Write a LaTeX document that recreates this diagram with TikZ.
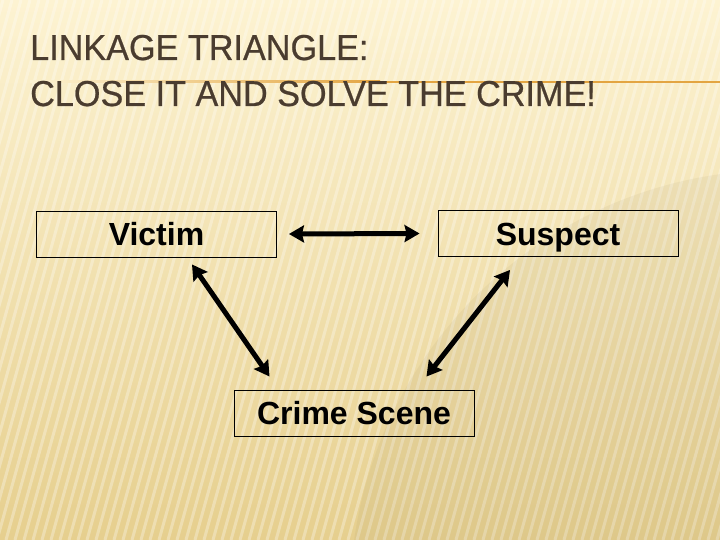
\documentclass[tikz,border=0pt]{standalone}
\usepackage{fontspec}
\setmainfont{Liberation Sans}
\newfontfamily\ttlfont[FakeStretch=0.95,FakeBold=0.6]{Liberation Sans}
\usetikzlibrary{arrows.meta}
\definecolor{titlebrown}{HTML}{4A3C2F}
\definecolor{creamtop}{HTML}{FDF3D2}
\definecolor{creambot}{HTML}{E6CF8E}
\definecolor{rulorange}{HTML}{E3A542}

\begin{document}
\begin{tikzpicture}[x=1pt,y=-1pt,
 box/.style={draw=black,line width=0.9pt,minimum width=240pt,minimum height=46pt,inner sep=0pt,text height=23pt,text depth=0pt,font=\fontsize{32}{40}\selectfont\bfseries},
 link/.style={line width=5pt,{Stealth[length=15pt,width=17pt,inset=2pt]}-{Stealth[length=15pt,width=17pt,inset=2pt]}},
 ttl/.style={anchor=base west,inner sep=0pt,text=titlebrown,font=\ttlfont\fontsize{36}{40}\selectfont}]

% background
\shade[top color=creamtop,bottom color=creambot] (0,0) rectangle (720,540);
\useasboundingbox (0,0) rectangle (720,540);
\begin{scope}
\clip (0,0) rectangle (720,540);
\foreach \i in {-300,-291,...,720}
  \draw[white,opacity=0.3,line width=3pt] (\i,540) -- (\i+150,0);
\fill[black!40!creambot,opacity=0.08] (780,600) circle (430);
\end{scope}

% title
\shade[left color=creamtop,right color=rulorange] (30,81) rectangle (380,83);
\fill[rulorange] (380,81) rectangle (720,83);
\node[ttl] (ttl1) at (30,60) {LINKAGE TRIANGLE:};
\node[ttl] (ttl2) at (30,106) {CLOSE IT AND SOLVE THE CRIME!};

% triangle
\node[box] (victim) at (156.5,234) {Victim};
\node[box] (suspect) at (558,233.5) {Suspect};
\node[box] (scene) at (354,413) {Crime Scene};

\draw[link] ([xshift=12pt]victim.east) -- ([xshift=-18pt]suspect.west);
\draw[link] ([xshift=35.5pt,yshift=-7pt]victim.south) -- ([xshift=36pt,yshift=13pt]scene.north west);
\draw[link] ([xshift=-48pt,yshift=-13pt]suspect.south) -- ([xshift=-48pt,yshift=13pt]scene.north east);
\end{tikzpicture}
\end{document}
